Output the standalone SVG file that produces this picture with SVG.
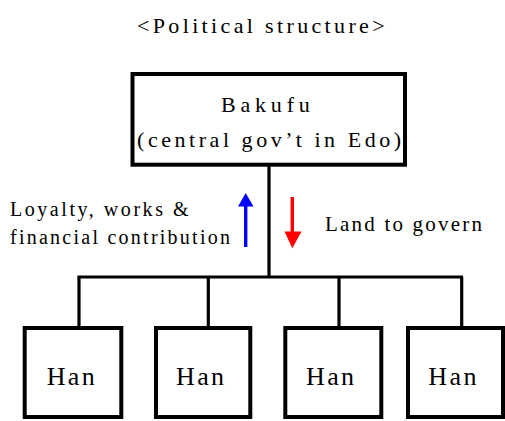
<svg xmlns="http://www.w3.org/2000/svg" width="505" height="421" viewBox="0 0 505 421">
<defs>
<style>
text{font-family:"Liberation Serif","Times New Roman",serif;fill:#000}
.box{fill:#fff;stroke:#000;stroke-width:4}
.ln{stroke:#000;stroke-width:3.2;fill:none}
.han{font-size:26px;letter-spacing:2.4px}
</style>
</defs>
<rect width="505" height="421" fill="#fff"/>
<text x="137" y="33" font-size="22" letter-spacing="3.35">&lt;Political structure&gt;</text>
<g id="connectors">
<line class="ln" x1="269" y1="165" x2="269" y2="277"/>
<line class="ln" x1="77.5" y1="277" x2="463" y2="277"/>
<line class="ln" x1="79" y1="277" x2="79" y2="327"/>
<line class="ln" x1="208.3" y1="277" x2="208.3" y2="327"/>
<line class="ln" x1="339" y1="277" x2="339" y2="327"/>
<line class="ln" x1="461.7" y1="277" x2="461.7" y2="327"/>
</g>
<g id="arrow-up">
<line x1="245.7" y1="247" x2="245.7" y2="203" stroke="#0000ff" stroke-width="3.4"/>
<path d="M245.7,193 L253.5,206.5 L238,206.5 Z" fill="#0000ff"/>
</g>
<g id="arrow-down">
<line x1="292.3" y1="197" x2="292.3" y2="236" stroke="#ff0000" stroke-width="3.4"/>
<path d="M292.3,248.3 L284.5,231.5 L301.5,231.5 Z" fill="#ff0000"/>
</g>
<g id="bakufu">
<rect class="box" x="132.5" y="74" width="272.5" height="90.7"/>
<text x="221" y="112" font-size="22" letter-spacing="4.8">Bakufu</text>
<text x="137" y="147" font-size="22" letter-spacing="3.55">(central gov’t in Edo)</text>
</g>
<g id="label-left">
<text x="10" y="216" font-size="20" letter-spacing="2.55">Loyalty, works &amp;</text>
<text x="10" y="244" font-size="20" letter-spacing="2.25">financial contribution</text>
</g>
<g id="label-right">
<text x="325" y="230.5" font-size="21" letter-spacing="2.2">Land to govern</text>
</g>
<g id="han1">
<rect class="box" x="24.7" y="328" width="96.6" height="89"/>
<text class="han" x="46.7" y="385">Han</text>
</g>
<g id="han2">
<rect class="box" x="156" y="328" width="94.3" height="89"/>
<text class="han" x="176" y="385">Han</text>
</g>
<g id="han3">
<rect class="box" x="285.3" y="328" width="96" height="89"/>
<text class="han" x="306" y="385">Han</text>
</g>
<g id="han4">
<rect class="box" x="408" y="328" width="95" height="89"/>
<text class="han" x="428.3" y="385">Han</text>
</g>
</svg>
